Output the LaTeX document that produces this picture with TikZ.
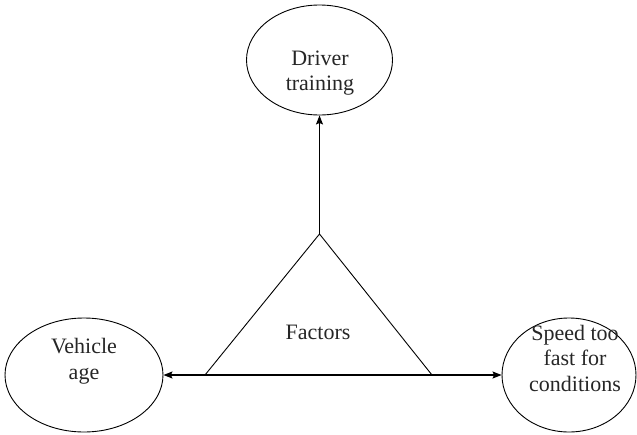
\documentclass[tikz,border=0pt]{standalone}
\usepackage{fontspec}
\setmainfont{Liberation Serif}
\usetikzlibrary{shapes.geometric,arrows.meta}
\begin{document}
\begin{tikzpicture}[x=1pt,y=-1pt,
  bubble/.style={draw, ellipse, inner sep=0pt, line width=0.9pt},
  caption/.style={align=center, inner sep=0pt, font=\fontsize{22}{25.5}\selectfont, text=black!85},
  link/.style={line width=1.2pt, -{Stealth[length=9pt,width=7pt,inset=1.5pt]}}]
  \useasboundingbox (0,0) rectangle (637,434);
  % outer factors
  \node[bubble, minimum width=146pt, minimum height=110pt] (driver) at (319.5,60) {};
  \node[bubble, minimum width=158pt, minimum height=114pt] (vehicle) at (84,375) {};
  \node[bubble, minimum width=134pt, minimum height=114pt] (speed) at (569,375) {};
  \node[caption] (driverT) at (320,73) {Driver\\training};
  \node[caption] (vehicleT) at (84,361) {Vehicle\\age};
  \node[caption] (speedT) at (575,358) {Speed too\\fast for\\conditions};
  % central triangle
  \coordinate (apex) at (319.5,234);
  \coordinate (bl) at (205,375);
  \coordinate (br) at (432,375);
  \draw[line width=0.9pt] (bl) -- (apex) -- (br);
  \node[caption] (factors) at (318,332) {Factors};
  % connectors
  \draw[link] (apex) -- (driver);
  \draw[link, {Stealth[length=9pt,width=7pt,inset=1.5pt]}-{Stealth[length=9pt,width=7pt,inset=1.5pt]}] (vehicle) -- (speed);
\end{tikzpicture}
\end{document}
